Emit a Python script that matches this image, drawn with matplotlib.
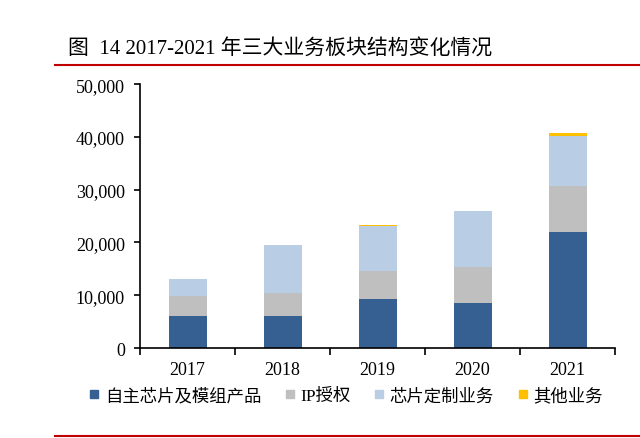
import numpy as np
import matplotlib.pyplot as plt
from matplotlib.ticker import FuncFormatter
from matplotlib.lines import Line2D

plt.rcParams['font.family'] = ['Liberation Serif', 'Noto Sans CJK SC']

years = ['2017', '2018', '2019', '2020', '2021']
own_chips = [6000, 6000, 9280, 8520, 22030]     # 自主芯片及模组产品
ip_license = [3900, 4470, 5360, 6760, 8710]     # IP授权
custom_chip = [3170, 9030, 8520, 10610, 9470]   # 芯片定制业务
other = [0, 0, 150, 150, 500]                   # 其他业务

names = ['自主芯片及模组产品', 'IP授权', '芯片定制业务', '其他业务']
colors = ['#366092', '#BFBFBF', '#B9CDE5', '#FFC000']

fig = plt.figure(figsize=(6.4, 4.39), dpi=100)
ax = fig.add_axes([0.219, 0.205, 0.742, 0.601])

x = np.arange(len(years))
bottom = np.zeros(len(years))
for vals, c in zip([own_chips, ip_license, custom_chip, other], colors):
    ax.bar(x, vals, width=0.4, bottom=bottom, color=c, zorder=2)
    bottom += np.array(vals)

ax.set_xlim(-0.5, len(years) - 0.5)
ax.set_ylim(0, 50000)
ax.set_yticks(np.arange(0, 50001, 10000))
ax.yaxis.set_major_formatter(FuncFormatter(lambda v, p: '{:,.0f}'.format(v)))
ax.set_xticks(x)
ax.set_xticklabels(years)
ax.set_xticks(np.arange(-0.5, len(years), 1), minor=True)
ax.tick_params(axis='x', which='major', length=0, labelsize=13, pad=9)
ax.tick_params(axis='x', which='minor', length=5, width=1.2, direction='out')
ax.tick_params(axis='y', length=4, width=1.2, direction='out', labelsize=13, pad=7)
for s in ['top', 'right']:
    ax.spines[s].set_visible(False)
ax.spines['left'].set_linewidth(1.2)
ax.spines['bottom'].set_linewidth(1.2)

handles = [Line2D([], [], marker='s', linestyle='none', markersize=5.5,
                  markerfacecolor=c, markeredgecolor=c) for c in colors]
fig.legend(handles, names, loc='center', bbox_to_anchor=(0.541, 0.0957), ncol=4,
           frameon=False, handletextpad=0.35, columnspacing=1.4, handlelength=0.5,
           borderpad=0, borderaxespad=0,
           prop={'family': ['Liberation Serif', 'Noto Sans CJK SC'], 'size': 12.5})

fig.text(0.106, 0.875, '图  14 2017-2021 年三大业务板块结构变化情况', fontsize=15,
         ha='left', va='baseline')
fig.add_artist(Line2D([0.086, 1.0], [0.85, 0.85], color='#C00000', lw=1.5))
fig.add_artist(Line2D([0.086, 1.0], [0.005, 0.005], color='#C00000', lw=1.5))

fig.savefig('out.png', dpi=100)
